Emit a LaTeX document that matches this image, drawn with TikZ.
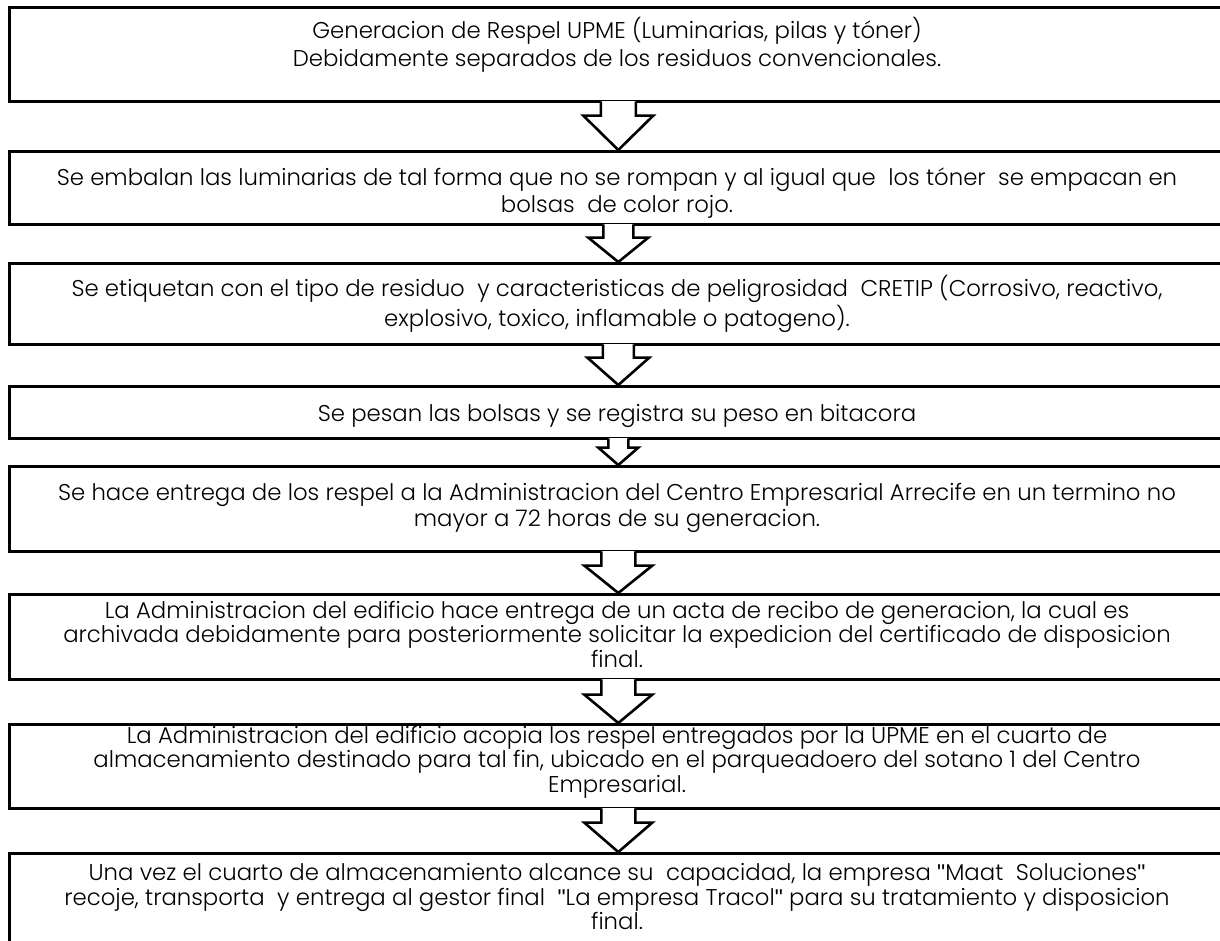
\documentclass[tikz,border=0pt]{standalone}
\usepackage{fontspec}
\setmainfont{Poppins}[UprightFont={* Light}]
\newfontfamily\qfont{Liberation Sans}
\newcommand\dq{{\qfont\symbol{34}}}
\usetikzlibrary{calc}
\newcommand\blockarrow[4]{%
  \fill[white] ($(#1.south)+(-#3,-1.4)$) -- ($(#1.south)+(-#3,#4)$) -- ($(#1.south)+(-2*#3,#4)$)
     -- (#2.north) -- ($(#1.south)+(2*#3,#4)$) -- ($(#1.south)+(#3,#4)$) -- ($(#1.south)+(#3,-1.4)$) -- cycle;
  \draw[arr] ($(#1.south)+(-#3,-1.3)$) -- ($(#1.south)+(-#3,#4)$) -- ($(#1.south)+(-2*#3,#4)$)
     -- (#2.north) -- ($(#1.south)+(2*#3,#4)$) -- ($(#1.south)+(#3,#4)$) -- ($(#1.south)+(#3,-1.3)$);
}
\begin{document}
\begin{tikzpicture}[x=1pt,y=-1pt,
  box/.style={draw, line width=2.6pt, minimum width=1218pt, inner sep=0pt, anchor=north west},
  txt/.style={align=center, font=\fontsize{22.8}{24.5}\selectfont, inner sep=0pt, text=black},
  arr/.style={line width=2.6pt, line join=miter}]
\useasboundingbox (0,0) rectangle (1220,940);
\clip (0,0) rectangle (1220,940);
\fill[white] (0,0) rectangle (1220,940);
\node[box, minimum height=94pt]  (b1) at (8,6) {};
\node[box, minimum height=73pt]  (b2) at (8,150) {};
\node[box, minimum height=81pt]  (b3) at (8,262) {};
\node[box, minimum height=52pt]  (b4) at (8,385) {};
\node[box, minimum height=85pt]  (b5) at (8,465) {};
\node[box, minimum height=85pt]  (b6) at (8,593) {};
\node[box, minimum height=84pt]  (b7) at (8,723) {};
\node[box, minimum height=120pt] (b8) at (8,852) {};
\blockarrow{b1}{b2}{17.5}{13}
\blockarrow{b2}{b3}{15}{12}
\blockarrow{b3}{b4}{15.5}{12}
\blockarrow{b4}{b5}{10}{8}
\blockarrow{b5}{b6}{17}{13}
\blockarrow{b6}{b7}{17}{14}
\blockarrow{b7}{b8}{17}{13}
\node[txt] (t1) at (617,44.5) {Generacion de Respel UPME (Luminarias, pilas y tóner)\\[3.5pt]Debidamente separados de los residuos convencionales.};
\node[txt] (t2) at (617,193) {Se embalan las luminarias de tal forma que no se rompan y al igual que\ \ los tóner\ \ se empacan en\\[2pt]bolsas\ \ de color rojo.};
\node[txt] (t3) at (617,304) {Se etiquetan con el tipo de residuo\ \ y caracteristicas de peligrosidad\ \ CRETIP (Corrosivo, reactivo,\\[1.5pt]explosivo, toxico, inflamable o patogeno).};
\node[txt] (t4) at (617,416) {Se pesan las bolsas y se registra su peso en bitacora};
\node[txt] (t5) at (617,508) {Se hace entrega de los respel a la Administracion del Centro Empresarial Arrecife en un termino no\\[2pt]mayor a 72 horas de su generacion.};
\node[txt] (t6) at (617,634) {La Administracion del edificio hace entrega de un acta de recibo de generacion, la cual es\\archivada debidamente para posteriormente solicitar la expedicion del certificado de disposicion\\final.};
\node[txt] (t7) at (617,762) {La Administracion del edificio acopia los respel entregados por la UPME en el cuarto de\\almacenamiento destinado para tal fin, ubicado en el parqueadoero del sotano 1 del Centro\\Empresarial.};
\node[txt] (t8) at (617,897) {Una vez el cuarto de almacenamiento alcance su\ \ capacidad, la empresa \dq Maat\ \ Soluciones\dq\\recoje, transporta\ \ y entrega al gestor final\ \ \dq La empresa Tracol\dq\ para su tratamiento y disposicion\\final.};
\end{tikzpicture}
\end{document}
